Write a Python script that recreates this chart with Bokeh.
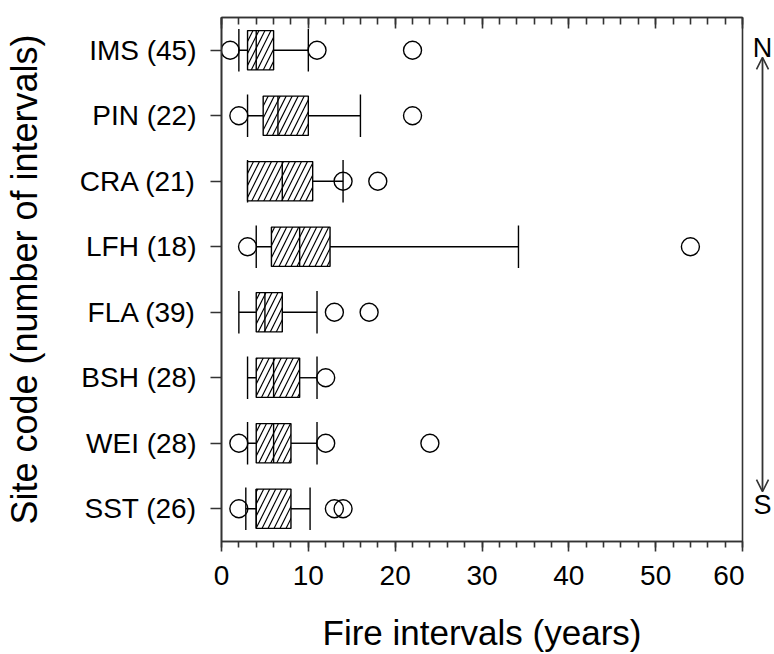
from bokeh.plotting import figure
from bokeh.models import (ColumnDataSource, FactorRange, Range1d, LinearAxis,
                          SingleIntervalTicker, Label, Arrow, OpenHead)
from bokeh.transform import dodge
from bokeh.layouts import row
from bokeh.embed import file_html
from bokeh.resources import INLINE

# ---------------- data ----------------
sites = ["IMS (45)", "PIN (22)", "CRA (21)", "LFH (18)",
         "FLA (39)", "BSH (28)", "WEI (28)", "SST (26)"]
whisker_low = [2, 3, 3, 4, 2, 3, 3, 2.8]
q1 = [3, 4.8, 3, 5.75, 4, 4, 4, 4]
median = [4, 6.5, 7, 9, 5, 6, 6, 4]
q3 = [6, 10, 10.5, 12.5, 7, 9, 8, 8]
whisker_high = [10, 16, 14, 34.2, 11, 11, 11, 10.2]

outlier_site = (["IMS (45)"] * 3 + ["PIN (22)"] * 2 + ["CRA (21)"] * 2 +
                ["LFH (18)"] * 2 + ["FLA (39)"] * 2 + ["BSH (28)"] * 1 +
                ["WEI (28)"] * 3 + ["SST (26)"] * 3)
outlier_value = [1, 11, 22, 2, 22, 14, 18, 3, 54, 13, 17, 12, 2, 12, 24, 2, 13, 14]

x_tick_interval = 10
x_label = "Fire intervals (years)"
y_label = "Site code (number of intervals)"
north_label = "N"
south_label = "S"

FONT = "Liberation Sans"
AXIS_COLOR = "#333333"
INK = "black"

src = ColumnDataSource(dict(site=sites, lo=whisker_low, q1=q1, med=median,
                            q3=q3, hi=whisker_high))
out_src = ColumnDataSource(dict(site=outlier_site, val=outlier_value))

H = 654
TOP = 17
BOTTOM = 111

p = figure(width=744, height=H, output_backend="svg", toolbar_location=None,
           x_range=Range1d(0, 60), y_range=FactorRange(*list(reversed(sites))),
           min_border_left=219, min_border_right=2,
           min_border_top=TOP, min_border_bottom=BOTTOM)
p.background_fill_color = "white"
p.border_fill_color = "white"
p.outline_line_color = AXIS_COLOR
p.outline_line_width = 1.6
p.xgrid.grid_line_color = None
p.ygrid.grid_line_color = None

ticker = SingleIntervalTicker(interval=x_tick_interval, num_minor_ticks=5)

# bottom axis
xa = p.xaxis[0]
xa.ticker = ticker
xa.axis_label = x_label
xa.axis_label_text_font = FONT
xa.axis_label_text_font_size = "35px"
xa.axis_label_text_font_style = "normal"
xa.axis_label_text_color = INK
xa.axis_label_standoff = 25
xa.major_label_text_font = FONT
xa.major_label_text_font_size = "28px"
xa.major_label_text_color = INK
xa.major_label_standoff = 14
xa.major_tick_in = 0
xa.major_tick_out = 10
xa.minor_tick_in = 0
xa.minor_tick_out = 6
xa.axis_line_color = AXIS_COLOR
xa.axis_line_width = 1.6
xa.major_tick_line_color = AXIS_COLOR
xa.major_tick_line_width = 1.6
xa.minor_tick_line_color = AXIS_COLOR
xa.minor_tick_line_width = 1.6

# top axis (ticks only, pointing inward, no labels)
top = LinearAxis(ticker=SingleIntervalTicker(interval=x_tick_interval, num_minor_ticks=5),
                 major_label_text_font_size="1px", major_label_text_color=None,
                 major_label_standoff=0, axis_label_standoff=0,
                 major_tick_in=11, major_tick_out=0,
                 minor_tick_in=7, minor_tick_out=0,
                 axis_line_color=AXIS_COLOR, axis_line_width=1.6,
                 major_tick_line_color=AXIS_COLOR, major_tick_line_width=1.6,
                 minor_tick_line_color=AXIS_COLOR, minor_tick_line_width=1.6)
p.add_layout(top, "above")

# left axis
ya = p.yaxis[0]
ya.axis_label = y_label
ya.axis_label_text_font = FONT
ya.axis_label_text_font_size = "36px"
ya.axis_label_text_font_style = "normal"
ya.axis_label_text_color = INK
ya.axis_label_standoff = 32
ya.major_label_text_font = FONT
ya.major_label_text_font_size = "28px"
ya.major_label_text_color = INK
ya.major_label_standoff = 14
ya.major_tick_in = 0
ya.major_tick_out = 11
ya.axis_line_color = AXIS_COLOR
ya.axis_line_width = 1.6
ya.major_tick_line_color = AXIS_COLOR
ya.major_tick_line_width = 1.6

BOX_H = 0.6
CAP_H = 0.65
LW = 1.4

# whiskers
p.segment(x0="lo", y0="site", x1="q1", y1="site", source=src, line_color=INK, line_width=LW)
p.segment(x0="q3", y0="site", x1="hi", y1="site", source=src, line_color=INK, line_width=LW)
# caps
for col in ("lo", "hi"):
    p.segment(x0=col, y0=dodge("site", -CAP_H / 2, range=p.y_range),
              x1=col, y1=dodge("site", CAP_H / 2, range=p.y_range),
              source=src, line_color=INK, line_width=LW)
# boxes
p.hbar(y="site", left="q1", right="q3", height=BOX_H, source=src,
       fill_color="white", line_color=INK, line_width=LW,
       hatch_pattern="/", hatch_scale=12, hatch_color=INK, hatch_weight=1.2)
# medians
p.segment(x0="med", y0=dodge("site", -BOX_H / 2, range=p.y_range),
          x1="med", y1=dodge("site", BOX_H / 2, range=p.y_range),
          source=src, line_color=INK, line_width=LW)
# outliers
p.scatter(x="val", y="site", source=out_src, marker="circle", size=18,
          fill_color=None, line_color=INK, line_width=LW)

# ---------------- N/S arrow panel ----------------
p2 = figure(width=30, height=H, output_backend="svg", toolbar_location=None,
            x_range=Range1d(0, 30), y_range=Range1d(0, len(sites)),
            x_axis_type=None, y_axis_type=None,
            min_border_left=0, min_border_right=0,
            min_border_top=TOP, min_border_bottom=BOTTOM)
p2.outline_line_color = None
p2.background_fill_color = "white"
p2.border_fill_color = "white"

ARROW_X = 18
p2.add_layout(Arrow(x_start=ARROW_X, y_start=0.76, x_end=ARROW_X, y_end=7.39,
                    line_color=AXIS_COLOR, line_width=1.8,
                    start=OpenHead(size=12, line_color=AXIS_COLOR, line_width=1.6),
                    end=OpenHead(size=12, line_color=AXIS_COLOR, line_width=1.6)))
p2.add_layout(Label(x=ARROW_X, y=7.54, text=north_label, text_font=FONT,
                    text_font_size="27px", text_align="center",
                    text_baseline="middle", text_color=INK))
p2.add_layout(Label(x=ARROW_X, y=0.56, text=south_label, text_font=FONT,
                    text_font_size="27px", text_align="center",
                    text_baseline="middle", text_color=INK))

layout = row(p, p2)
open("out.html", "w").write(file_html(layout, INLINE))
